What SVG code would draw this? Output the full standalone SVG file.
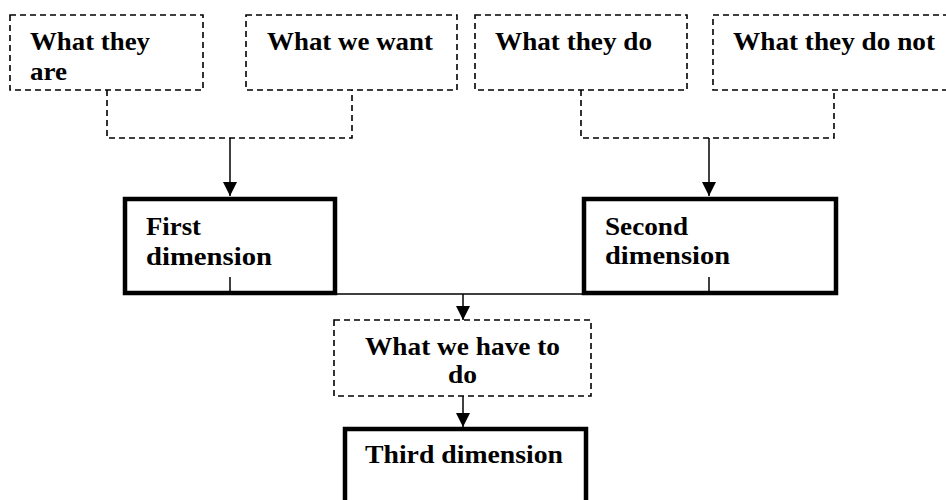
<svg xmlns="http://www.w3.org/2000/svg" width="946" height="500" viewBox="0 0 946 500">
<style>
.dash{fill:none;stroke:#000;stroke-width:1.6;stroke-dasharray:6 4}
.thick{fill:none;stroke:#000;stroke-width:4.5}
.line{fill:none;stroke:#000;stroke-width:1.5}
text{font-family:"Liberation Serif","Times New Roman",serif;font-weight:bold;font-size:26px;fill:#000}
</style>
<defs>
<marker id="arr" markerWidth="14" markerHeight="14" refX="14" refY="7" orient="auto" markerUnits="userSpaceOnUse">
<path d="M0,0 L14,7 L0,14 Z" fill="#000"/>
</marker>
</defs>
<rect width="946" height="500" fill="#fff"/>
<g id="connectors">
<path class="dash" d="M107,90 V138 H352 V90"/>
<path class="dash" d="M581,90 V138 H834 V90"/>
<line class="line" x1="230" y1="138" x2="230" y2="196" marker-end="url(#arr)"/>
<line class="line" x1="709" y1="138" x2="709" y2="196" marker-end="url(#arr)"/>
<line class="line" x1="230" y1="277" x2="230" y2="294"/>
<line class="line" x1="709" y1="277" x2="709" y2="294"/>
<line class="line" x1="337" y1="294" x2="582" y2="294"/>
<line class="line" x1="463" y1="294" x2="463" y2="320" marker-end="url(#arr)"/>
<line class="line" x1="463" y1="396" x2="463" y2="427" marker-end="url(#arr)"/>
</g>
<g id="n-what-they-are">
<rect class="dash" x="10" y="15" width="193" height="75"/>
<text x="30" y="50" textLength="120" lengthAdjust="spacingAndGlyphs">What they</text>
<text x="30" y="80" textLength="37" lengthAdjust="spacingAndGlyphs">are</text>
</g>
<g id="n-what-we-want">
<rect class="dash" x="246" y="15" width="211" height="75"/>
<text x="267" y="50" textLength="166" lengthAdjust="spacingAndGlyphs">What we want</text>
</g>
<g id="n-what-they-do">
<rect class="dash" x="475" y="15" width="212" height="75"/>
<text x="495" y="50" textLength="157" lengthAdjust="spacingAndGlyphs">What they do</text>
</g>
<g id="n-what-they-do-not">
<rect class="dash" x="713" y="15" width="240" height="75"/>
<text x="733" y="50" textLength="202" lengthAdjust="spacingAndGlyphs">What they do not</text>
</g>
<g id="n-first">
<rect class="thick" x="125" y="199" width="210" height="94"/>
<text x="146" y="235" textLength="55" lengthAdjust="spacingAndGlyphs">First</text>
<text x="146" y="265" textLength="126" lengthAdjust="spacingAndGlyphs">dimension</text>
</g>
<g id="n-second">
<rect class="thick" x="584" y="199" width="252" height="94"/>
<text x="605" y="235" textLength="83" lengthAdjust="spacingAndGlyphs">Second</text>
<text x="605" y="264" textLength="125" lengthAdjust="spacingAndGlyphs">dimension</text>
</g>
<g id="n-what-we-have-to-do">
<rect class="dash" x="334" y="320" width="257" height="76"/>
<text x="365" y="355" textLength="195" lengthAdjust="spacingAndGlyphs">What we have to</text>
<text x="448" y="383" textLength="29" lengthAdjust="spacingAndGlyphs">do</text>
</g>
<g id="n-third">
<rect class="thick" x="345" y="429" width="241" height="80"/>
<text x="365" y="463" textLength="198" lengthAdjust="spacingAndGlyphs">Third dimension</text>
</g>
</svg>
